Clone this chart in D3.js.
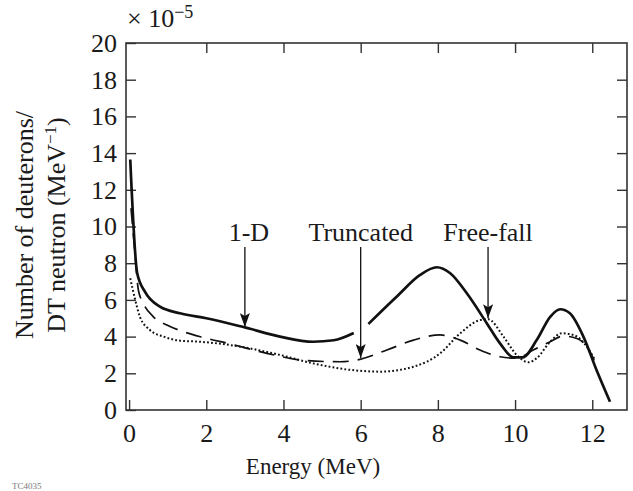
<!DOCTYPE html>
<html>
<head>
<meta charset="utf-8">
<script src="https://cdn.jsdelivr.net/npm/d3@7"></script>
<style>
  body { margin: 0; background: #fff; }
  svg text { font-family: 'Liberation Serif', 'DejaVu Serif', serif; fill: #1a1a1a; }
</style>
</head>
<body>
<svg id="chart" width="633" height="491"></svg>
<script>
// energies (MeV) and deuteron yield (x 1e-5 per MeV)
const energy1D = [0.03, 0.21, 0.41, 0.8, 1.32, 2.0, 2.96, 3.91, 4.77, 5.3, 5.82, 6.0,
    6.2, 6.93, 7.54, 7.97, 8.32, 8.75, 9.27, 9.61, 9.96, 10.2, 10.56, 10.91, 11.17, 11.42, 11.77, 12.11, 12.46];
const yield1D = [13.65, 7.45, 6.45, 5.63, 5.27, 5.0, 4.52, 4.0, 3.72, 3.8, 4.2, null,
    4.69, 6.17, 7.36, 7.78, 7.45, 6.36, 4.72, 3.63, 2.87, 2.87, 3.81, 5.08, 5.49, 5.27, 4.0, 2.18, 0.45];

const energyTrunc = [0.05, 0.15, 0.24, 0.37, 0.63, 0.98, 1.4, 1.92, 2.62, 3.57, 4.6, 5.47, 5.98,
    6.68, 7.37, 8.06, 8.58, 9.09, 9.61, 10.04, 10.47, 10.91, 11.25, 11.6, 11.94, 12.05];
const yieldTrunc = [11.0, 8.6, 6.54, 5.81, 5.08, 4.63, 4.27, 3.95, 3.6, 3.09, 2.69, 2.63, 2.76,
    3.27, 3.81, 4.09, 3.81, 3.27, 2.9, 2.82, 3.27, 3.72, 4.03, 3.9, 3.18, 2.7];

const energyFree = [0.03, 0.16, 0.28, 0.54, 0.89, 1.32, 1.84, 2.62, 3.91, 4.77, 5.64, 6.5, 7.37,
    8.06, 8.58, 9.09, 9.3, 9.7, 10.04, 10.35, 10.56, 10.91, 11.21, 11.51, 11.86, 12.05];
const yieldFree = [7.18, 5.99, 5.08, 4.36, 4.0, 3.78, 3.72, 3.54, 3.0, 2.54, 2.21, 2.09, 2.36,
    3.09, 4.18, 4.9, 4.95, 4.0, 3.0, 2.6, 2.82, 3.72, 4.18, 4.09, 3.45, 2.8];

const xTicks = [0, 2, 4, 6, 8, 10, 12];
const yTicks = [0, 2, 4, 6, 8, 10, 12, 14, 16, 18, 20];

// arrow annotations: label, energy and value the arrow points at
const annoLabels = ['1-D', 'Truncated', 'Free-fall'];
const annoEnergy = [3.0, 6.0, 9.3];
const annoValue = [4.52, 2.83, 5.0];

const serif = "'Liberation Serif', 'DejaVu Serif', serif";
const svg = d3.select('#chart');
const plot = { left: 126, right: 627, top: 43, bottom: 410 };

const x = d3.scaleLinear().domain([-0.08, 12.9]).range([plot.left, plot.right]);
const y = d3.scaleLinear().domain([0, 20]).range([plot.bottom, plot.top]);

const axisColor = '#333';

function styleAxis(g){
    g.attr('font-family', serif);
    g.select('.domain').remove();
    g.selectAll('.tick line').attr('stroke', axisColor).attr('stroke-width', 1.4);
    g.selectAll('.tick text').attr('font-size', 26);
}

// bottom + left with labels, ticks point inward
svg.append('g').attr('transform', `translate(0,${plot.bottom})`)
    .call(d3.axisBottom(x).tickValues(xTicks).tickSize(-10).tickPadding(14).tickFormat(d3.format('d')))
    .call(styleAxis);
svg.append('g').attr('transform', `translate(${plot.left},0)`)
    .call(d3.axisLeft(y).tickValues(yTicks).tickSize(-10).tickPadding(9).tickFormat(d3.format('d')))
    .call(styleAxis);
// top + right, ticks only
svg.append('g').attr('transform', `translate(0,${plot.top})`)
    .call(d3.axisTop(x).tickValues(xTicks.slice(1)).tickSize(-10).tickFormat(''))
    .call(styleAxis);
svg.append('g').attr('transform', `translate(${plot.right},0)`)
    .call(d3.axisRight(y).tickValues(yTicks.slice(1, -1)).tickSize(-10).tickFormat(''))
    .call(styleAxis);

// frame
svg.append('rect')
    .attr('x', plot.left).attr('y', plot.top)
    .attr('width', plot.right - plot.left).attr('height', plot.bottom - plot.top)
    .attr('fill', 'none').attr('stroke', axisColor).attr('stroke-width', 1.6);

// curves
const line = d3.line()
    .defined(d => d[1] !== null)
    .x(d => x(d[0])).y(d => y(d[1]))
    .curve(d3.curveMonotoneX);

const series = [
    { e: energy1D, v: yield1D, width: 2.7, dash: null },
    { e: energyTrunc, v: yieldTrunc, width: 1.7, dash: '16,9' },
    { e: energyFree, v: yieldFree, width: 2, dash: '1.8,2.2' }
];
series.forEach(s => {
    svg.append('path')
        .datum(d3.zip(s.e, s.v))
        .attr('d', line)
        .attr('fill', 'none')
        .attr('stroke', '#111')
        .attr('stroke-width', s.width)
        .attr('stroke-dasharray', s.dash);
});

// annotations with arrows
const defs = svg.append('defs');
defs.append('marker')
    .attr('id', 'arrow')
    .attr('viewBox', '0 0 10 14')
    .attr('refX', 5).attr('refY', 14)
    .attr('markerWidth', 10).attr('markerHeight', 14)
    .attr('markerUnits', 'userSpaceOnUse')
    .attr('orient', '0')
    .append('path')
    .attr('d', 'M0,0 L5,3 L10,0 L5,14 Z')
    .attr('fill', '#111');

const labelBaseline = 241;
annoLabels.forEach((label, i) => {
    const ax = x(annoEnergy[i]);
    svg.append('line')
        .attr('x1', ax).attr('x2', ax)
        .attr('y1', labelBaseline + 6).attr('y2', y(annoValue[i]))
        .attr('stroke', '#111').attr('stroke-width', 1.3)
        .attr('marker-end', 'url(#arrow)');
    svg.append('text')
        .attr('x', ax + (i === 0 ? 4 : 0)).attr('y', labelBaseline)
        .attr('text-anchor', 'middle')
        .attr('font-family', serif)
        .attr('font-size', 26)
        .text(label);
});

// axis titles
svg.append('text')
    .attr('x', 313).attr('y', 474)
    .attr('text-anchor', 'middle')
    .attr('font-family', serif)
    .attr('font-size', 23)
    .text('Energy (MeV)');

const yTitle = svg.append('text')
    .attr('transform', 'translate(33,225) rotate(-90)')
    .attr('text-anchor', 'middle')
    .attr('font-family', serif)
    .attr('font-size', 26);
yTitle.append('tspan').attr('x', 0).attr('dy', 0).text('Number of deuterons/');
const l2 = yTitle.append('tspan').attr('x', 0).attr('dy', 32);
l2.append('tspan').text('DT neutron (MeV');
l2.append('tspan').attr('font-size', 17).attr('dy', -9).text('−1');
l2.append('tspan').attr('dy', 9).text(')');

// exponent label
const expo = svg.append('text').attr('x', 127).attr('y', 27)
    .attr('font-family', serif).attr('font-size', 26);
expo.append('tspan').text('× 10');
expo.append('tspan').attr('font-size', 18).attr('dy', -9).text('−5');

// figure id at the bottom-left corner
svg.append('text')
    .attr('x', 12).attr('y', 489)
    .attr('font-family', serif)
    .attr('font-size', 9)
    .style('fill', '#777')
    .text('TC4035');
</script>
</body>
</html>
